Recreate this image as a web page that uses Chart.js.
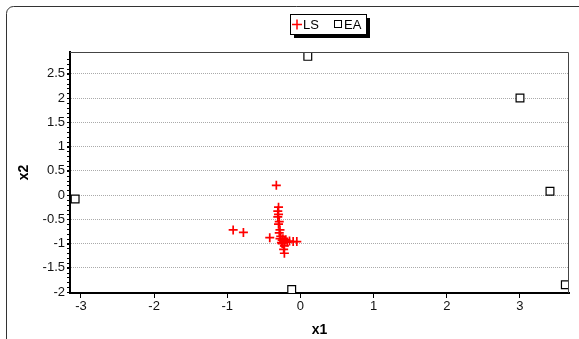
<!DOCTYPE html>
<html>
<head>
<meta charset="utf-8">
<script src="https://cdn.jsdelivr.net/npm/chart.js@4.4.1/dist/chart.umd.min.js"></script>
<style>
  html, body { margin: 0; padding: 0; background: #fff; }
  #wrap { width: 579px; height: 339px; }
</style>
</head>
<body>
<div id="wrap"><canvas id="myChart" width="579" height="339"></canvas></div>
<script>
"use strict";

// LS points (red plus)
const lsX = [-0.33, -0.92, -0.78, -0.42, -0.30, -0.31, -0.30, -0.31, -0.29, -0.30, -0.28, -0.29, -0.27, -0.28, -0.25, -0.22, -0.20, -0.18, -0.15, -0.10, -0.05, -0.25, -0.22, -0.23, -0.22, -0.24, -0.26];
const lsY = [0.20, -0.72, -0.77, -0.88, -0.25, -0.33, -0.40, -0.45, -0.55, -0.60, -0.72, -0.78, -0.85, -0.90, -0.93, -0.95, -0.92, -0.97, -0.95, -0.96, -0.96, -1.00, -1.05, -1.12, -1.20, -0.90, -0.98];

// EA points (open squares)
const eaX = [0.10, 3.00, 3.41, 3.62, -3.08, -0.12];
const eaY = [2.86, 2.00, 0.08, -1.85, -0.08, -1.95];

const xTicks = [-3, -2, -1, 0, 1, 2, 3];
const yTicks = [-2, -1.5, -1, -0.5, 0, 0.5, 1, 1.5, 2, 2.5];

function toPoints(xs, ys) {
	let pts = [];
	for (let i = 0; i < xs.length; i++) pts.push({ x: xs[i], y: ys[i] });
	return pts;
}

const FONT = "Liberation Sans, Arial, sans-serif";

let extras = {
	id: "extras",
	beforeDraw: function (chart) {
		let ctx = chart.ctx;
		ctx.save();
		ctx.fillStyle = "#fff";
		ctx.fillRect(0, 0, chart.width, chart.height);
		// outer rounded frame
		ctx.strokeStyle = "#333";
		ctx.lineWidth = 1;
		ctx.beginPath();
		ctx.roundRect(6.5, 6.5, 590, 340, 7);
		ctx.stroke();
		ctx.restore();
	},
	afterDraw: function (chart) {
		let ctx = chart.ctx;
		let a = chart.chartArea;
		let ys = chart.scales.y;
		ctx.save();
		// thin top/right border of plot
		ctx.strokeStyle = "#444";
		ctx.lineWidth = 1;
		ctx.beginPath();
		ctx.moveTo(a.left, a.top + 0.5);
		ctx.lineTo(a.right - 0.5, a.top + 0.5);
		ctx.lineTo(a.right - 0.5, a.bottom);
		ctx.stroke();
		// minor ticks on y axis
		ctx.strokeStyle = "#000";
		ctx.beginPath();
		for (let v = -2; v <= 2.9; v += 0.1) {
			let py = Math.round(ys.getPixelForValue(v)) + 0.5;
			ctx.moveTo(a.left - 3, py);
			ctx.lineTo(a.left, py);
		}
		ctx.stroke();
		// legend box with shadow
		let lx = 290, ly = 14, lw = 76, lh = 20;
		ctx.fillStyle = "#000";
		ctx.fillRect(lx + 4, ly + 4, lw, lh);
		ctx.fillStyle = "#fff";
		ctx.fillRect(lx, ly, lw, lh);
		ctx.strokeStyle = "#000";
		ctx.strokeRect(lx + 0.5, ly + 0.5, lw, lh);
		// LS marker
		ctx.strokeStyle = "#ff0000";
		ctx.lineWidth = 1.5;
		ctx.beginPath();
		ctx.moveTo(292, 24.5); ctx.lineTo(302, 24.5);
		ctx.moveTo(297, 19.5); ctx.lineTo(297, 29.5);
		ctx.stroke();
		ctx.fillStyle = "#000";
		ctx.font = "13px " + FONT;
		ctx.textBaseline = "middle";
		ctx.fillText("LS", 303, 25);
		// EA marker
		ctx.strokeStyle = "#000";
		ctx.lineWidth = 1;
		ctx.strokeRect(334.5, 20.5, 7, 7);
		ctx.fillText("EA", 344, 25);
		ctx.restore();
	}
};

let myChart = new Chart($("myChart"), {
	type: "scatter",
	data: {
		datasets: [
			{
				label: "LS",
				data: toPoints(lsX, lsY),
				pointStyle: "cross",
				pointRadius: 4.5,
				pointBorderWidth: 1.7,
				borderColor: "#ff0000",
				backgroundColor: "#ff0000"
			},
			{
				label: "EA",
				data: toPoints(eaX, eaY),
				pointStyle: "rect",
				pointRadius: 5.5,
				pointBorderWidth: 1.2,
				borderColor: "#000",
				backgroundColor: "#fff"
			}
		]
	},
	options: {
		responsive: false,
		animation: false,
		layout: { padding: { left: 16, top: 52, right: 10, bottom: 0 } },
		plugins: {
			legend: { display: false },
			tooltip: { enabled: false }
		},
		scales: {
			x: {
				type: "linear",
				min: -3.15,
				max: 3.67,
				afterBuildTicks: function (scale) { scale.ticks = xTicks.map(v => ({ value: v })); },
				afterFit: function (scale) { scale.height = 46; },
				grid: { drawOnChartArea: false, drawTicks: true, tickLength: 5, color: "#000" },
				border: { color: "#000", width: 2 },
				ticks: { color: "#111", font: { family: FONT, size: 13 }, padding: 1, maxRotation: 0, callback: v => String(v) },
				title: { display: true, text: "x1", color: "#000", font: { family: FONT, size: 14, weight: "bold" }, padding: { top: 1, bottom: 0 } }
			},
			y: {
				type: "linear",
				min: -2.02,
				max: 2.95,
				afterBuildTicks: function (scale) { scale.ticks = yTicks.map(v => ({ value: v })); },
				afterFit: function (scale) { scale.width = 54; },
				grid: { color: "#aaa", lineWidth: 1, drawTicks: true, tickLength: 3, tickColor: "#000" },
				border: { color: "#000", width: 2, dash: [1, 1] },
				ticks: { color: "#111", font: { family: FONT, size: 13 }, padding: 2, callback: v => String(v) },
				title: { display: true, text: "x2", color: "#000", font: { family: FONT, size: 14, weight: "bold" }, padding: { top: 0, bottom: 0 } }
			}
		}
	},
	plugins: [extras]
});

function $(id) { return document.getElementById(id); }
</script>
</body>
</html>
